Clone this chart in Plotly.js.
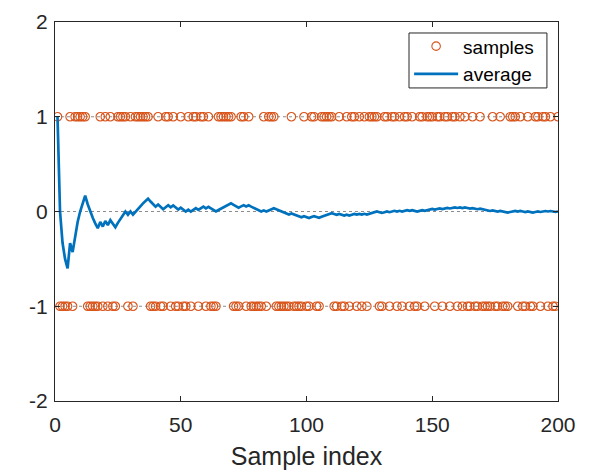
<!DOCTYPE html>
<html>
<head>
<meta charset="utf-8">
<script src="https://cdn.plot.ly/plotly-3.0.1.min.js"></script>
<style>html,body{margin:0;padding:0;background:#fff;}#chart{width:614px;height:475px;}</style>
</head>
<body>
<div id="chart"></div>
<script>
// Samples (index 1..200), each +1 or -1
const samples = [
  1,-1,-1,-1,-1, 1,-1, 1, 1, 1,   // 1-10
  1, 1,-1,-1,-1,-1,-1, 1,-1, 1,   // 11-20
 -1, 1,-1,-1, 1, 1, 1, 1,-1, 1,   // 21-30
 -1, 1, 1, 1, 1, 1, 1,-1,-1,-1,   // 31-40
  1,-1,-1, 1, 1,-1, 1,-1,-1, 1,   // 41-50
 -1,-1, 1,-1, 1, 1,-1, 1, 1,-1,   // 51-60
  1,-1,-1,-1, 1, 1, 1, 1, 1, 1,   // 61-70
 -1,-1,-1, 1, 1,-1, 1,-1,-1,-1,   // 71-80
 -1,-1, 1,-1, 1, 1, 1,-1,-1,-1,   // 81-90
 -1,-1,-1, 1,-1,-1,-1,-1, 1,-1,   // 91-100
 -1, 1, 1,-1,-1, 1, 1, 1, 1, 1,   // 101-110
 -1,-1, 1,-1,-1, 1,-1, 1, 1,-1,   // 111-120
  1,-1, 1,-1, 1, 1, 1, 1,-1,-1,   // 121-130
  1, 1,-1, 1, 1,-1, 1,-1, 1, 1,   // 131-140
 -1, 1,-1,-1, 1, 1,-1, 1, 1, 1,   // 141-150
 -1, 1, 1,-1, 1, 1,-1, 1, 1,-1,   // 151-160
  1,-1, 1,-1,-1, 1,-1,-1, 1,-1,   // 161-170
 -1,-1,-1, 1,-1,-1, 1,-1,-1,-1,   // 171-180
  1, 1, 1,-1, 1,-1,-1, 1,-1,-1,   // 181-190
  1, 1,-1, 1, 1,-1, 1,-1,-1, 1    // 191-200
];
const xTicks = [0, 50, 100, 150, 200];
const yTicks = [-2, -1, 0, 1, 2];
const refLevels = [1, 0, -1];

const idx = samples.map((_, i) => i + 1);
// running average of the samples (as plotted in the reference)
const average = [];
let sum = 0;
samples.forEach((v, i) => { sum += v; average.push(sum / (i + 1)); });

const font = 'Liberation Sans, Arial, Helvetica, sans-serif';
const axisColor = '#262626';

const traces = [
  {
    x: idx, y: samples, type: 'scatter', mode: 'markers', name: 'samples',
    marker: {symbol: 'circle-open', size: 8.5, color: '#D95319', line: {width: 1.1, color: '#D95319'}}
  },
  {
    x: idx, y: average, type: 'scatter', mode: 'lines', name: 'average',
    line: {color: '#0072BD', width: 2.7}
  }
];

const shapes = refLevels.map(v => ({
  type: 'line', xref: 'x', yref: 'y', x0: 0, x1: 200, y0: v, y1: v,
  line: {color: '#8c8c8c', width: 1, dash: 'dot'}, layer: 'below'
}));
// legend frame (MATLAB-style tight box)
shapes.push({
  type: 'rect', xref: 'paper', yref: 'paper',
  x0: 0.7038, x1: 0.978, y0: 0.826, y1: 0.971,
  fillcolor: '#ffffff', line: {color: axisColor, width: 1}, layer: 'above'
});

const layout = {
  width: 614, height: 475,
  margin: {l: 55, r: 56, t: 22, b: 74, pad: 0},
  paper_bgcolor: '#ffffff', plot_bgcolor: '#ffffff',
  font: {family: font, color: axisColor},
  showlegend: true,
  legend: {
    x: 0.704, y: 0.986, xanchor: 'left', yanchor: 'top',
    bgcolor: 'rgba(0,0,0,0)', borderwidth: 0,
    font: {family: font, size: 19, color: '#000000'},
    tracegroupgap: 0, itemwidth: 44
  },
  xaxis: {
    range: [0, 200], tickvals: xTicks, ticktext: xTicks.map(String),
    ticks: 'inside', ticklen: 5, tickwidth: 1, tickcolor: axisColor,
    showline: true, linecolor: axisColor, linewidth: 1, mirror: 'ticks',
    showgrid: false, zeroline: false, ticklabelstandoff: 5,
    tickfont: {family: font, size: 21, color: axisColor},
    title: {text: 'Sample index', font: {family: font, size: 25, color: axisColor}, standoff: 12}
  },
  yaxis: {
    range: [-2, 2], tickvals: yTicks, ticktext: yTicks.map(String),
    ticks: 'inside', ticklen: 5, tickwidth: 1, tickcolor: axisColor,
    showline: true, linecolor: axisColor, linewidth: 1, mirror: 'ticks',
    showgrid: false, zeroline: false, ticklabelstandoff: 2,
    tickfont: {family: font, size: 21, color: axisColor}
  },
  shapes: shapes
};

Plotly.newPlot('chart', traces, layout, {staticPlot: true, displayModeBar: false});
</script>
</body>
</html>
